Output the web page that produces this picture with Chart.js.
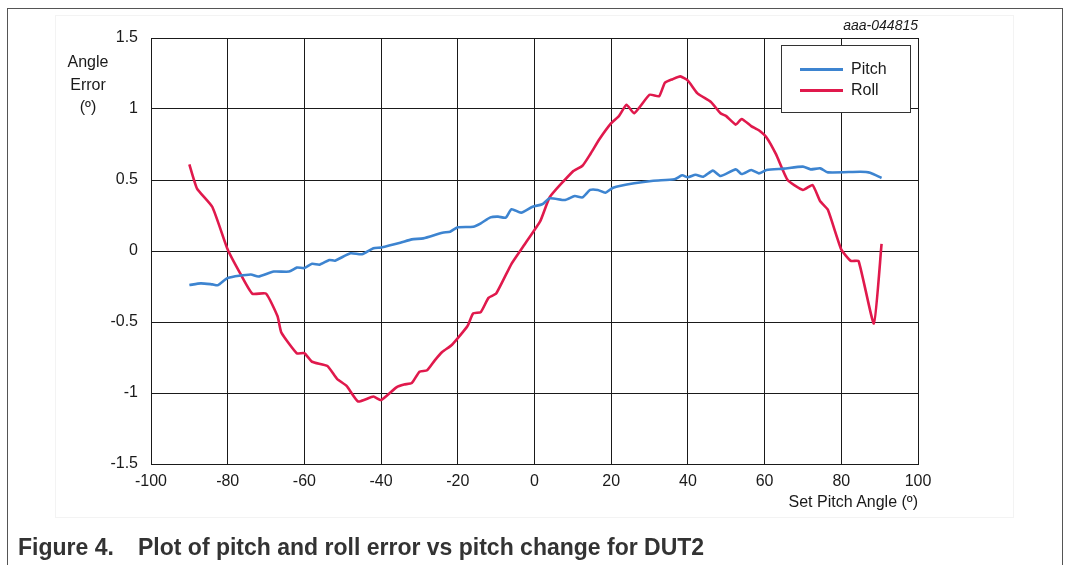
<!DOCTYPE html>
<html>
<head>
<meta charset="utf-8">
<script src="https://cdn.jsdelivr.net/npm/chart.js@4/dist/chart.umd.min.js"></script>
<style>
  html, body { margin: 0; padding: 0; background: #fff; }
  body { width: 1065px; height: 565px; position: relative; overflow: hidden; font-family: "Liberation Sans", Arial, sans-serif; }
  #frame { position: absolute; left: 7px; top: 8px; width: 1056px; height: 570px; border-left: 1px solid #555; border-top: 1px solid #555; border-right: 1px solid #555; box-sizing: border-box; }
  #imgbox { position: absolute; left: 55px; top: 15px; width: 959px; height: 503px; border: 1px solid #f3f3f3; box-sizing: border-box; }
  #c { position: absolute; left: 0; top: 0; }
  .txt { position: absolute; color: #1a1a1a; font-size: 16px; white-space: pre; }
  #ylab { left: 48px; top: 51px; width: 80px; text-align: center; line-height: 22.5px; }
  #xlab { right: 147px; top: 493px; }
  #code { right: 147px; top: 17px; font-style: italic; font-size: 14px; }
  .cap { top: 534px; font-weight: bold; font-size: 23px; color: #333; }
  #legend { position: absolute; left: 781px; top: 45px; width: 130px; height: 68px; border: 1px solid #333; background: #fff; box-sizing: border-box; }
  .lg { position: absolute; left: 18px; width: 43px; height: 3px; }
  .lt { position: absolute; left: 69px; font-size: 16px; color: #1a1a1a; line-height: 18px; }
</style>
</head>
<body>
<div id="frame"></div>
<div id="imgbox"></div>
<canvas id="c" width="1065" height="565"></canvas>
<div class="txt" id="ylab">Angle<br>Error<br>(º)</div>
<div class="txt" id="xlab">Set Pitch Angle (º)</div>
<div class="txt" id="code">aaa-044815</div>
<div class="txt cap" style="left:18px">Figure 4.</div>
<div class="txt cap" style="left:138px">Plot of pitch and roll error vs pitch change for DUT2</div>
<div id="legend">
  <div class="lg" style="top:22px;background:#3d84d0"></div><div class="lt" style="top:14px">Pitch</div>
  <div class="lg" style="top:43px;background:#e0194c"></div><div class="lt" style="top:35px">Roll</div>
</div>
<script>
const seriesNames = ["Pitch", "Roll"];
const xTickLabels = ["-100", "-80", "-60", "-40", "-20", "0", "20", "40", "60", "80", "100"];
const yTickLabels = ["-1.5", "-1", "-0.5", "0", "0.5", "1", "1.5"];

const pitchX = [-90, -87, -84, -82.5, -80, -74, -72, -68, -64, -62, -60, -58, -56, -53.5, -52, -48, -45, -42, -40, -35, -32, -29, -24, -22, -20, -16, -14, -11.5, -9.5, -7.5, -6, -3.5, -0.5, 2, 4, 8, 10.5, 12.5, 14.5, 16.5, 18.5, 20.5, 26, 31, 36.5, 38.5, 40, 42, 44, 46.5, 48.5, 52.5, 54, 56.5, 58.5, 60.5, 65, 70, 72, 74.5, 76.5, 85, 87.5, 90.5];
const pitchY = [-0.24, -0.228, -0.235, -0.24, -0.19, -0.165, -0.18, -0.145, -0.145, -0.117, -0.12, -0.09, -0.096, -0.063, -0.068, -0.016, -0.023, 0.019, 0.025, 0.058, 0.082, 0.089, 0.129, 0.136, 0.167, 0.171, 0.195, 0.237, 0.242, 0.235, 0.294, 0.27, 0.312, 0.329, 0.371, 0.359, 0.387, 0.378, 0.43, 0.43, 0.41, 0.446, 0.477, 0.495, 0.505, 0.533, 0.519, 0.537, 0.523, 0.566, 0.528, 0.575, 0.542, 0.570, 0.547, 0.570, 0.58, 0.594, 0.575, 0.582, 0.554, 0.558, 0.551, 0.514];

const rollX = [-90, -88, -84, -80, -76.7, -73.6, -70, -67, -66, -62, -60, -58, -54, -51.5, -49, -46, -42, -40, -36, -34, -32, -30, -28, -26, -24, -21.5, -17.5, -16, -14, -12, -10, -6, -3, 1.5, 4, 10, 12.5, 14.5, 17, 20, 22, 24, 26, 30, 32.5, 34, 36, 38, 40, 42.5, 46, 48.5, 50, 52.5, 54, 56.5, 58.5, 60.5, 63, 66, 70, 72.5, 74.5, 76.5, 80, 82.5, 84.5, 88.5, 90.5];
const rollY = [0.61, 0.44, 0.31, 0.01, -0.16, -0.30, -0.30, -0.46, -0.575, -0.72, -0.72, -0.78, -0.81, -0.90, -0.95, -1.06, -1.025, -1.05, -0.96, -0.94, -0.93, -0.85, -0.84, -0.77, -0.71, -0.66, -0.53, -0.44, -0.43, -0.33, -0.30, -0.09, 0.03, 0.21, 0.38, 0.56, 0.60, 0.68, 0.79, 0.90, 0.95, 1.03, 0.97, 1.10, 1.09, 1.185, 1.21, 1.23, 1.20, 1.11, 1.05, 0.97, 0.95, 0.89, 0.93, 0.88, 0.85, 0.80, 0.68, 0.50, 0.43, 0.465, 0.35, 0.29, 0.01, -0.07, -0.07, -0.51, 0.05];

const toPts = (xs, ys) => xs.map((x, i) => ({ x: x, y: ys[i] }));
const gridColor = '#1a1a1a';
const tickFont = { family: '"Liberation Sans", Arial, sans-serif', size: 16 };

new Chart(document.getElementById('c'), {
  type: 'line',
  data: {
    datasets: [
      { label: seriesNames[0], data: toPts(pitchX, pitchY), borderColor: '#3d84d0', borderWidth: 2.6, pointRadius: 0, tension: 0.2, fill: false },
      { label: seriesNames[1], data: toPts(rollX, rollY), borderColor: '#e0194c', borderWidth: 2.6, pointRadius: 0, tension: 0.15, fill: false }
    ]
  },
  options: {
    responsive: false,
    animation: false,
    devicePixelRatio: 1,
    layout: { padding: { left: 0, top: 38, right: 147, bottom: 61 } },
    plugins: { legend: { display: false }, tooltip: { enabled: false } },
    scales: {
      x: {
        type: 'linear', min: -100, max: 100,
        ticks: { stepSize: 20, padding: 8, color: '#1a1a1a', font: tickFont, maxRotation: 0,
          callback: (v) => { const i = Math.round((v + 100) / 20); return xTickLabels[i]; } },
        grid: { color: gridColor, lineWidth: 1, drawTicks: false },
        border: { color: gridColor, width: 1 },
        afterFit: (s) => { s.height = 40; }
      },
      y: {
        type: 'linear', min: -1.5, max: 1.5,
        ticks: { stepSize: 0.5, padding: 13, color: '#1a1a1a', font: tickFont,
          callback: (v) => { const i = Math.round((v + 1.5) / 0.5); return yTickLabels[i]; } },
        grid: { color: gridColor, lineWidth: 1, drawTicks: false },
        border: { color: gridColor, width: 1 },
        afterFit: (s) => { s.width = 151; }
      }
    }
  }
});
</script>
</body>
</html>
